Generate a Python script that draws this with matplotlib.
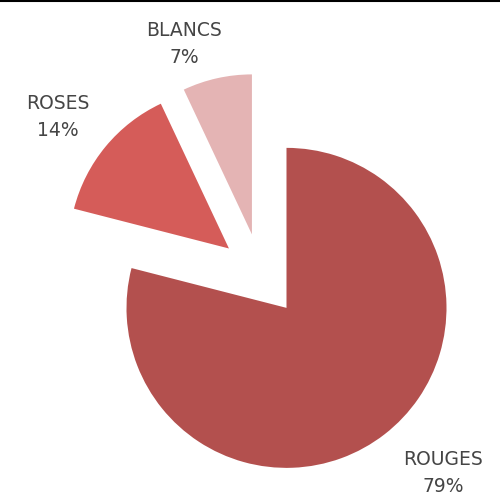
import matplotlib
matplotlib.use("Agg")
import matplotlib.pyplot as plt
import numpy as np

# data
noms = ["ROUGES", "ROSES", "BLANCS"]
parts = [79, 14, 7]
couleurs = ["#B3504E", "#D55C59", "#E4B4B4"]

plt.rcParams['font.family'] = ['DejaVu Sans']

fig = plt.figure(figsize=(5, 4.98), dpi=100)
ax = fig.add_axes([0, 0, 1, 1])

# camembert eclate, depart a midi, sens horaire
ecl = [0.26, 0.26, 0.26]
wedges, _ = ax.pie(parts, colors=couleurs, startangle=90, counterclock=False,
                   explode=ecl, radius=1.0, center=(0, 0),
                   wedgeprops=dict(linewidth=0))

# etiquettes autour du camembert
dist = [1.68, 1.61, 1.52]
decal = [4.8, 1.7, 5.8]  # petit decalage angulaire (degres)
ang0 = 90
for nom, p, d, dd in zip(noms, parts, dist, decal):
    a = ang0 - p * 3.6 / 2
    ang0 -= p * 3.6
    aa = np.radians(a + dd)
    ax.text(d * np.cos(aa), d * np.sin(aa), f"{nom}\n{p}%", ha="center", va="center",
            fontsize=13.5, color="#454545", linespacing=1.55)

ax.set_xlim(-261 / 160, (500 - 261) / 160)
ax.set_ylim(-(498 - 275) / 160, 275 / 160)
ax.set_aspect("auto")
ax.axis("off")

# trait noir en haut
fig.add_artist(plt.Line2D([0, 1], [0.998, 0.998], color="black", linewidth=1.5,
                          transform=fig.transFigure))

fig.savefig("out.png", dpi=100, facecolor="white")
